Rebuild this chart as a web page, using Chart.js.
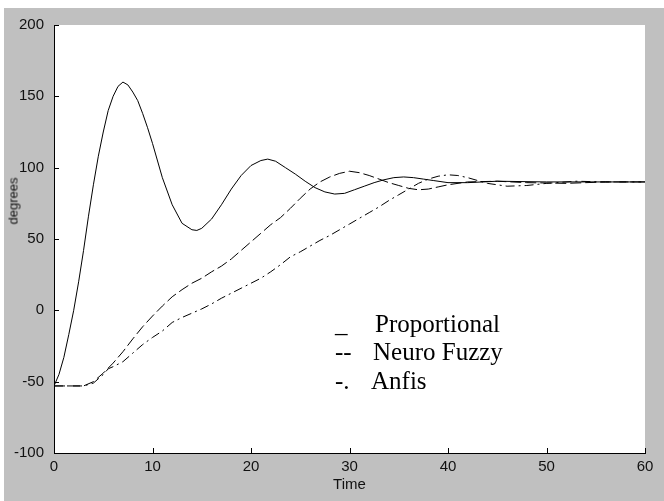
<!DOCTYPE html>
<html>
<head>
<meta charset="utf-8">
<script src="https://cdn.jsdelivr.net/npm/chart.js@4"></script>
<style>
  html, body { margin: 0; padding: 0; background: #fff; }
  #frame { position: relative; width: 664px; height: 501px; overflow: hidden; }
  #grey { position: absolute; left: 4px; top: 8px; right: 0; bottom: 0; background: #c0c0c0; }
  #chart { position: absolute; left: 0; top: 0; }
  .ylabel {
    position: absolute; left: 13px; top: 201px;
    font: 13px "Liberation Sans", Arial, sans-serif; color: #111;
    transform: translate(-50%, -50%) rotate(-90deg); white-space: nowrap;
  }
  .note {
    position: absolute; font: 25px "Liberation Serif", "Times New Roman", serif;
    line-height: 25px; color: #000; white-space: nowrap;
  }
</style>
</head>
<body>
<div id="frame">
  <div id="grey"></div>
  <canvas id="chart" width="664" height="501"></canvas>
  <div class="ylabel">degrees</div>
  <span class="note" style="left:335px; top:311px;">_</span>
  <span class="note" style="left:375px; top:311px;">Proportional</span>
  <span class="note" style="left:335px; top:339px;">--</span>
  <span class="note" style="left:373px; top:339px;">Neuro Fuzzy</span>
  <span class="note" style="left:335px; top:368px;">-.</span>
  <span class="note" style="left:371px; top:368px;">Anfis</span>
</div>
<script>
  // values (time in s, angle in degrees)
  const propTime = [0, 0.5, 1, 1.5, 2, 2.5, 3, 3.5, 4, 4.5, 5, 5.5, 6, 6.5, 7, 7.5, 8, 8.5, 9, 9.5, 10, 11, 12, 13, 14, 14.5, 15, 16, 17, 18, 19, 20, 21, 21.7, 22.5, 23.5, 24.5, 25.5, 26.5, 27.5, 28.5, 29.5, 30.5, 31.5, 32.5, 33.5, 34.5, 35.5, 36.5, 37.5, 38.5, 40, 42, 45, 50, 55, 60];
  const propDeg = [-53, -45, -33, -17, 0, 20, 42, 66, 88, 108, 125, 140, 150, 157, 160, 158, 153, 147, 138, 128, 117, 93, 74, 61, 56.5, 56, 57.5, 64, 74, 85, 94.5, 101.5, 105, 106, 104.5, 100, 95.5, 90.5, 86, 83, 81.5, 82, 84.5, 87, 89.5, 91.5, 93, 93.5, 93, 92, 91, 89.5, 89.5, 90.5, 90, 90, 90];

  const fuzzyTime = [0, 3, 4, 5, 6, 6.5, 7, 8, 9, 10, 11, 12, 13, 14, 15, 16, 17, 18, 19, 20, 21, 22, 23, 24, 25, 26, 27, 28, 29, 30, 31, 32, 33, 34, 35, 36, 37, 38, 39, 40, 42, 45, 48, 52, 56, 60];
  const fuzzyDeg = [-53, -53, -50, -44, -37, -33, -29, -20, -11.5, -4, 3, 9.5, 14.5, 19, 22.5, 27, 31, 36, 42, 48, 54, 60, 65, 71.5, 78.5, 85, 90, 93.5, 96, 97.5, 96.5, 94.5, 92, 89.5, 87.5, 85.5, 84.5, 85, 86.5, 88, 90, 90.5, 89.5, 89, 90, 90];

  const anfisTime = [0, 3, 4, 5, 5.5, 6, 7, 8, 9, 10, 11, 12, 13, 14, 15, 16, 17, 18, 19, 20, 21, 22, 23, 24, 25, 26, 27, 28, 29, 30, 31, 32, 33, 34, 35, 36, 37, 38, 39, 40, 41, 42, 43, 44, 46, 48, 50, 53, 56, 60];
  const anfisDeg = [-53, -53, -51, -45, -41, -39.5, -36, -30, -24, -19, -14.5, -8.5, -5, -2, 1, 4.5, 8.5, 12, 15.5, 19, 22.5, 27, 32, 37.5, 41, 45, 49, 52.5, 56.5, 60.5, 64.5, 68.5, 72.5, 77, 81, 85, 89, 92, 94, 95, 94.5, 93, 91, 89, 87, 87.5, 89, 90.5, 90, 90];

  const seriesNames = ['Proportional', 'Neuro Fuzzy', 'Anfis'];
  const xTicks = [0, 10, 20, 30, 40, 50, 60];
  const yTicks = [-100, -50, 0, 50, 100, 150, 200];

  const toPoints = (ts, vs) => ts.map((t, i) => ({ x: t, y: vs[i] }));

  const axisFont = { family: '"Liberation Sans", Arial, sans-serif', size: 15 };

  // white axes box and MATLAB-style inward tick marks
  const plotFrame = {
    id: 'plotFrame',
    beforeDraw(chart) {
      const { ctx, chartArea: a } = chart;
      ctx.save();
      ctx.fillStyle = '#fff';
      ctx.fillRect(a.left, a.top, a.right - a.left, a.bottom - a.top);
      ctx.restore();
    },
    afterDraw(chart) {
      const { ctx, chartArea: a, scales } = chart;
      ctx.save();
      ctx.strokeStyle = '#000';
      ctx.lineWidth = 1;
      ctx.beginPath();
      scales.x.ticks.forEach((tk) => {
        const px = Math.round(scales.x.getPixelForValue(tk.value)) + 0.5;
        ctx.moveTo(px, a.bottom);
        ctx.lineTo(px, a.bottom - 5);
      });
      scales.y.ticks.forEach((tk) => {
        const py = Math.round(scales.y.getPixelForValue(tk.value)) + 0.5;
        ctx.moveTo(a.left, py);
        ctx.lineTo(a.left + 5, py);
      });
      ctx.stroke();
      ctx.restore();
    },
  };

  new Chart(document.getElementById('chart'), {
    type: 'line',
    data: {
      datasets: [
        { label: seriesNames[0], data: toPoints(propTime, propDeg), borderColor: '#000', borderWidth: 1, pointRadius: 0, tension: 0 },
        { label: seriesNames[1], data: toPoints(fuzzyTime, fuzzyDeg), borderColor: '#000', borderWidth: 1, borderDash: [11, 4], pointRadius: 0, tension: 0 },
        { label: seriesNames[2], data: toPoints(anfisTime, anfisDeg), borderColor: '#000', borderWidth: 1, borderDash: [9, 4, 2, 4], pointRadius: 0, tension: 0 },
      ],
    },
    options: {
      responsive: false,
      animation: false,
      devicePixelRatio: 1,
      layout: { padding: { left: 0, top: 25, right: 19, bottom: 0 } },
      plugins: { legend: { display: false }, tooltip: { enabled: false } },
      scales: {
        x: {
          type: 'linear',
          min: 0,
          max: 60,
          afterFit: (scale) => { scale.height = 48; },
          afterBuildTicks: (scale) => { scale.ticks = xTicks.map((v) => ({ value: v })); },
          grid: { display: false, drawTicks: false },
          border: { display: true, color: '#000', width: 1 },
          ticks: { color: '#111', font: axisFont, padding: 5, maxRotation: 0 },
          title: { display: true, text: 'Time', color: '#111', font: axisFont, padding: { top: 0, bottom: 7 } },
        },
        y: {
          min: -100,
          max: 200,
          afterFit: (scale) => { scale.width = 54; },
          afterBuildTicks: (scale) => { scale.ticks = yTicks.map((v) => ({ value: v })); },
          grid: { display: false, drawTicks: false },
          border: { display: true, color: '#000', width: 1 },
          ticks: { color: '#111', font: axisFont, padding: 10 },
        },
      },
    },
    plugins: [plotFrame],
  });
</script>
</body>
</html>
